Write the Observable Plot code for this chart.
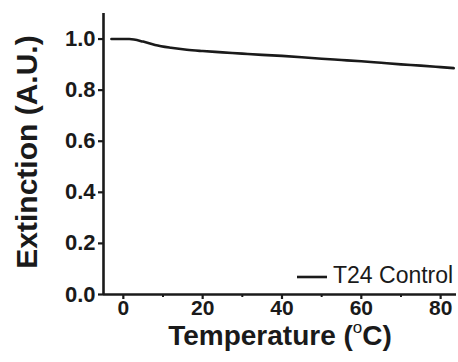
<!DOCTYPE html>
<html>
<head>
<meta charset="utf-8">
<script src="https://cdn.jsdelivr.net/npm/d3@7"></script>
<script src="https://cdn.jsdelivr.net/npm/@observablehq/plot@0.6"></script>
<style>
  html, body { margin: 0; padding: 0; background: #fff; }
  #chart { width: 458px; height: 362px; }
</style>
</head>
<body>
<div id="chart"></div>
<script>
// Data
const temperature = [-3, 1.5, 5, 8, 12, 16, 20, 25, 30, 35, 40, 45, 50, 55, 60, 65, 70, 75, 80, 83.3];
const extinction  = [1.0, 1.0, 0.99, 0.977, 0.966, 0.958, 0.953, 0.948, 0.943, 0.938, 0.934, 0.929, 0.923, 0.918, 0.913, 0.907, 0.901, 0.896, 0.890, 0.886];
const xTicks = [0, 20, 40, 60, 80];
const xMinorTicks = [10, 30, 50, 70];
const yTicks = [0.0, 0.2, 0.4, 0.6, 0.8, 1.0];
const seriesName = "T24 Control";
const xTitle = ["Temperature (", "o", "C)"];
const yTitle = "Extinction (A.U.)";

const rows = temperature.map((t, i) => ({t, e: extinction[i]}));
const ink = "#1a1a1a";

const chart = Plot.plot({
  width: 458,
  height: 362,
  marginLeft: 103,
  marginTop: 13,
  marginBottom: 68,
  marginRight: 2,
  x: {domain: [-5, 84]},
  y: {domain: [0, 1.1]},
  style: {fontFamily: "'Liberation Sans', Arial, sans-serif", fontSize: "22px", fontWeight: "bold", color: ink, background: "#fff"},
  marks: [
    Plot.axisY({ticks: yTicks, tickFormat: d3.format(".1f"), tickSize: 5, tickPadding: 3, label: null, strokeWidth: 2.2, fontSize: 22}),
    Plot.axisX({ticks: xTicks, tickFormat: d3.format("d"), tickSize: 5, tickPadding: 1, label: null, strokeWidth: 2.2, fontSize: 21}),
    Plot.axisX({ticks: xMinorTicks, tickSize: 3, text: null, label: null, strokeWidth: 2}),
    Plot.ruleX([-5], {stroke: ink, strokeWidth: 2.6}),
    Plot.ruleY([0], {stroke: ink, strokeWidth: 2.6}),
    Plot.line(rows, {x: "t", y: "e", stroke: ink, strokeWidth: 2.6, curve: "monotone-x"})
  ]
});

document.getElementById("chart").appendChild(chart);

const svg = d3.select(chart);
const fam = "'Liberation Sans', Arial, sans-serif";

// Y title
svg.append("text")
  .attr("transform", "translate(37,152) rotate(-90)")
  .attr("text-anchor", "middle")
  .attr("font-family", fam).attr("font-weight", "bold").attr("font-size", 30)
  .attr("fill", ink)
  .text(yTitle);

// X title with superscript
const xt = svg.append("text")
  .attr("x", 280).attr("y", 345)
  .attr("text-anchor", "middle")
  .attr("font-family", fam).attr("font-weight", "bold").attr("font-size", 28)
  .attr("fill", ink);
xt.append("tspan").text(xTitle[0]);
xt.append("tspan").attr("font-size", 17).attr("dy", -12).attr("font-weight", "normal").text(xTitle[1]);
xt.append("tspan").attr("dy", 12).text(xTitle[2]);

// Legend
svg.append("line")
  .attr("x1", 297).attr("x2", 327).attr("y1", 277).attr("y2", 277)
  .attr("stroke", ink).attr("stroke-width", 2.6);
svg.append("text")
  .attr("x", 333).attr("y", 283)
  .attr("text-anchor", "start")
  .attr("font-family", fam).attr("font-size", 23).attr("font-weight", "normal")
  .attr("fill", ink)
  .text(seriesName);
</script>
</body>
</html>
